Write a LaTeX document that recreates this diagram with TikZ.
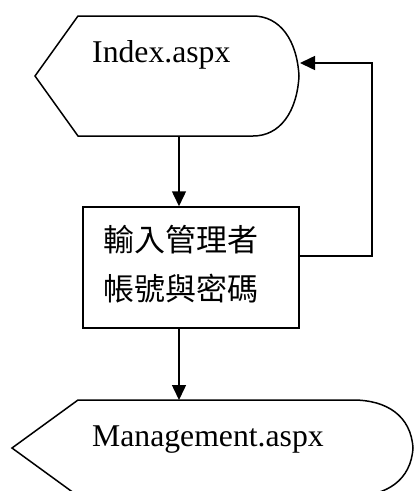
\documentclass[tikz,border=0pt]{standalone}
\usepackage{fontspec}
\setmainfont{Liberation Serif}
\newfontfamily\cjk{Noto Sans CJK TC}
\usetikzlibrary{arrows.meta}
\begin{document}
\begin{tikzpicture}[x=1pt,y=-1pt,
  shp/.style={draw=black,line width=1.5pt,line join=miter},
  conn/.style={draw=black,line width=1.5pt,-{Triangle[length=15pt,width=14pt]}},
  lbl/.style={font=\fontsize{31.7}{38}\selectfont,inner sep=0pt,anchor=base west},
  cjklbl/.style={font=\cjk\fontsize{31}{49}\selectfont,inner sep=0pt,anchor=base west}]
\useasboundingbox (0,0) rectangle (414,491);
\clip (0,0) rectangle (414,491);
% top display shape
\draw[shp] (35,76) -- (78,16) -- (253,16) .. controls (280,16) and (297,40) .. (299,76)
  .. controls (297,112) and (280,136) .. (253,136) -- (78,136) -- cycle;
\node[lbl] (idx) at (92,62) {Index.aspx};
\coordinate (idxS) at (179,136);
\coordinate (idxE) at (300,63);
% box
\node[shp,rectangle,minimum width=216pt,minimum height=121pt,inner sep=0pt] (box) at (191,267.5) {};
\node[cjklbl] (t1) at (103,251) {輸入管理者};
\node[cjklbl] (t2) at (103,300) {帳號與密碼};
% bottom display shape
\draw[shp] (12,448) -- (78,400) -- (353,400) .. controls (387,400) and (411,416) .. (413,448)
  .. controls (411,480) and (387,496) .. (353,496) -- (78,496) -- cycle;
\node[lbl] (mg) at (92,446) {Management.aspx};
\coordinate (mgN) at (179,400);
% connectors
\coordinate (fb) at (372,256);
\draw[conn] (idxS) -- (idxS |- box.north);
\draw[conn] (box.south -| mgN) -- (mgN);
\draw[conn] (box.east |- fb) -- (fb) -- (fb |- idxE) -- (idxE);
\end{tikzpicture}
\end{document}
